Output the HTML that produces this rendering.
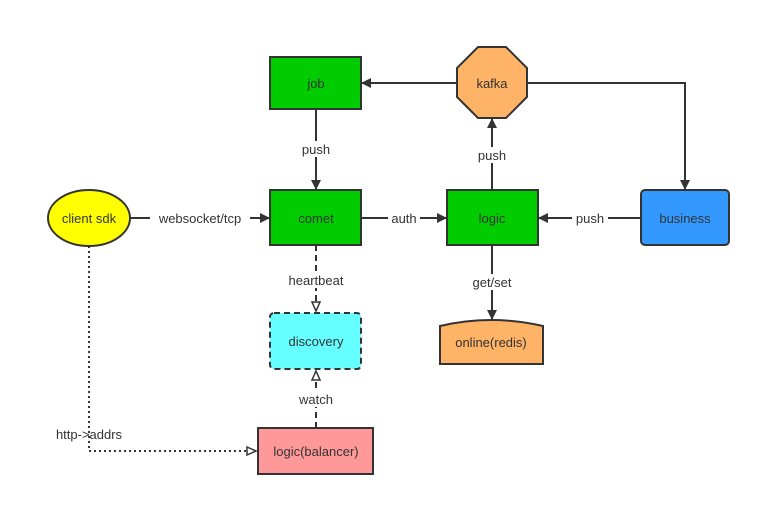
<!DOCTYPE html>
<html><head><style>body{margin:0;background:#fff}svg text{font-family:"Liberation Sans",sans-serif;font-size:13px;fill:#333}</style></head><body>
<svg width="761" height="506" xmlns="http://www.w3.org/2000/svg">
<defs>
<marker id="a" markerWidth="10" markerHeight="10" refX="9" refY="5" orient="auto" markerUnits="userSpaceOnUse"><path d="M0,0 L10,5 L0,10 Z" fill="#333"/></marker>
<marker id="o" markerWidth="12" markerHeight="12" refX="10" refY="5" orient="auto" markerUnits="userSpaceOnUse"><path d="M1,1 L10,5 L1,9 Z" fill="#fff" stroke="#333" stroke-width="1.5"/></marker>
</defs>
<g stroke="#333" stroke-width="2" fill="none">
<line x1="457" y1="83" x2="362" y2="83" marker-end="url(#a)"/>
<polyline points="527,83 685,83 685,189" marker-end="url(#a)"/>
<line x1="316" y1="109" x2="316" y2="189" marker-end="url(#a)"/>
<line x1="130" y1="218" x2="269" y2="218" marker-end="url(#a)"/>
<line x1="361" y1="218" x2="446" y2="218" marker-end="url(#a)"/>
<line x1="641" y1="218" x2="539" y2="218" marker-end="url(#a)"/>
<line x1="492" y1="190" x2="492" y2="119" marker-end="url(#a)"/>
<line x1="492" y1="245" x2="492" y2="319" marker-end="url(#a)"/>
<line x1="316" y1="245" x2="316" y2="311" stroke-dasharray="6,4" marker-end="url(#o)"/>
<line x1="316" y1="428" x2="316" y2="371" stroke-dasharray="6,4" marker-end="url(#o)"/>
<polyline points="89,246 89,451 256,451" stroke-dasharray="2,3" marker-end="url(#o)"/>
</g>
<g stroke="#333" stroke-width="2">
<rect x="270" y="57" width="91" height="52" fill="#00cc00"/>
<rect x="270" y="190" width="91" height="55" fill="#00cc00"/>
<rect x="447" y="190" width="91" height="55" fill="#00cc00"/>
<rect x="641" y="190" width="88" height="55" rx="4" fill="#3399ff"/>
<polygon points="478,47 506,47 527,68 527,97 506,118 478,118 457,97 457,68" fill="#ffb366"/>
<ellipse cx="89" cy="218" rx="41" ry="28" fill="#ffff00"/>
<rect x="270" y="313" width="91" height="56" rx="4" fill="#66ffff" stroke-dasharray="6,4"/>
<rect x="258" y="428" width="115" height="46" fill="#ff9999"/>
<path d="M440,364 L440,326 Q491,314 543,326 L543,364 Z" fill="#ffb366"/>
</g>
<g text-anchor="middle">
<text x="316" y="88">job</text>
<text x="316" y="223">comet</text>
<text x="492" y="223">logic</text>
<text x="685" y="223">business</text>
<text x="492" y="88">kafka</text>
<text x="89" y="223">client sdk</text>
<text x="316" y="346">discovery</text>
<text x="316" y="456">logic(balancer)</text>
<text x="491" y="347">online(redis)</text>
<rect x="298" y="141" width="36" height="16" fill="#fff"/><text x="316" y="154">push</text>
<rect x="474" y="147" width="36" height="16" fill="#fff"/><text x="492" y="160">push</text>
<rect x="150" y="210" width="100" height="16" fill="#fff"/><text x="200" y="223">websocket/tcp</text>
<rect x="388" y="210" width="32" height="16" fill="#fff"/><text x="404" y="223">auth</text>
<rect x="572" y="210" width="36" height="16" fill="#fff"/><text x="590" y="223">push</text>
<rect x="466" y="274" width="52" height="16" fill="#fff"/><text x="492" y="287">get/set</text>
<rect x="282" y="272" width="68" height="16" fill="#fff"/><text x="316" y="285">heartbeat</text>
<rect x="294" y="391" width="44" height="16" fill="#fff"/><text x="316" y="404">watch</text>
<text x="89" y="439">http-&gt;addrs</text>
</g>
</svg>
</body></html>
